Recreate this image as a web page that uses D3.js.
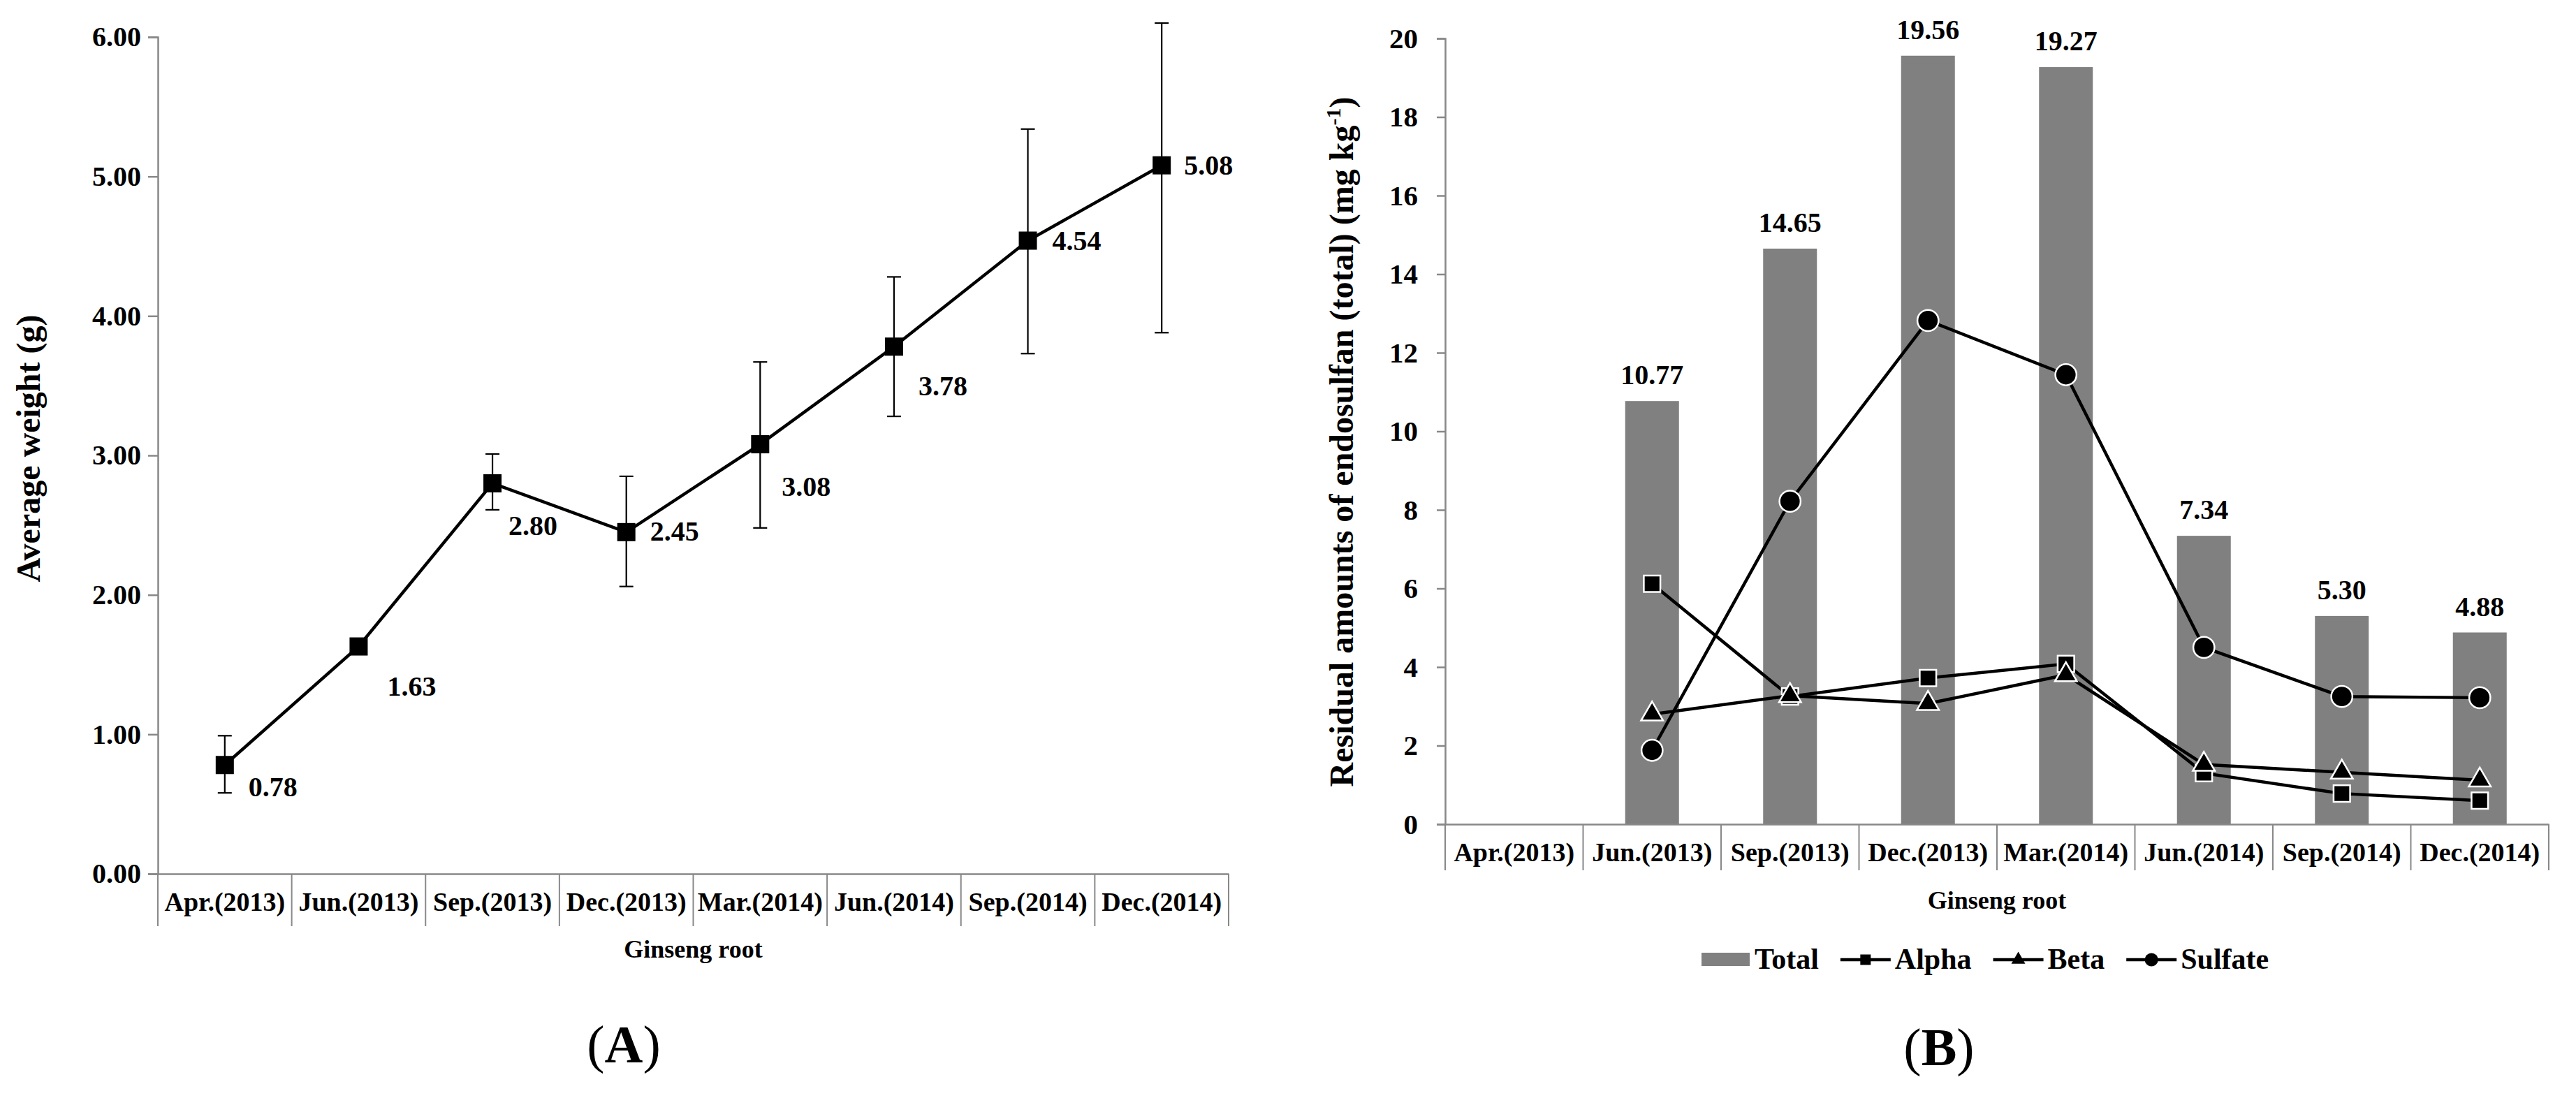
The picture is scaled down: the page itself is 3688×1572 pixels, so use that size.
<!DOCTYPE html>
<html>
<head>
<meta charset="utf-8">
<script src="https://cdn.jsdelivr.net/npm/d3@7"></script>
<style>
  html, body { margin: 0; padding: 0; background: #fff; }
  svg text { font-family: "Liberation Serif", "Times New Roman", serif; font-weight: bold; fill: #000; }
  svg text.panel { font-weight: normal; }
  svg text.panel tspan.letter { font-weight: bold; }
</style>
</head>
<body>
<div id="graph"></div>
<script>
// data
const categories = ["Apr.(2013)", "Jun.(2013)", "Sep.(2013)", "Dec.(2013)", "Mar.(2014)", "Jun.(2014)", "Sep.(2014)", "Dec.(2014)"];

// panel A: average weight of ginseng root (g)
const avgWeight = [0.78, 1.63, 2.80, 2.45, 3.08, 3.78, 4.54, 5.08];
const weightErrUp = [0.21, 0.03, 0.21, 0.40, 0.59, 0.50, 0.80, 1.02];
const weightErrDown = [0.20, 0.03, 0.19, 0.39, 0.60, 0.50, 0.81, 1.20];
const weightTicks = [0, 1, 2, 3, 4, 5, 6];

// panel B: residual endosulfan (mg kg-1)
const totalResidue = [null, 10.77, 14.65, 19.56, 19.27, 7.34, 5.30, 4.88];
const alphaResidue = [null, 6.12, 3.25, 3.72, 4.08, 1.30, 0.78, 0.60];
const betaResidue = [null, 2.80, 3.27, 3.07, 3.80, 1.52, 1.32, 1.12];
const sulfateResidue = [null, 1.88, 8.22, 12.82, 11.44, 4.50, 3.25, 3.22];
const residueTicks = [0, 2, 4, 6, 8, 10, 12, 14, 16, 18, 20];
const seriesNames = ["Total", "Alpha", "Beta", "Sulfate"];

const width = 3688;
const height = 1572;
const axisColor = "#888";

const svg = d3.select("#graph").append("svg")
    .attr("width", width)
    .attr("height", height);

svg.append("rect").attr("width", width).attr("height", height).attr("fill", "#fff");

// ---------- panel A ----------
const xA = d3.scaleBand().domain(categories).range([226, 1759]);
const yA = d3.scaleLinear().domain([0, 6]).range([1251, 53]);

const gA = svg.append("g");

// y axis
const yAxisA = gA.append("g")
    .attr("transform", "translate(226,0)")
    .call(d3.axisLeft(yA).tickValues(weightTicks).tickFormat(d3.format(".2f")).tickSize(14).tickPadding(10));
yAxisA.selectAll("path, line").attr("stroke", axisColor).attr("stroke-width", 2.5);
yAxisA.selectAll("text").attr("font-size", 40).attr("font-family", null);

// x axis with category dividers
const xAxisA = gA.append("g")
    .attr("transform", `translate(0,${yA(0)})`)
    .call(d3.axisBottom(xA).tickSize(0).tickPadding(53).tickSizeOuter(0));
xAxisA.select("path").attr("stroke", axisColor).attr("stroke-width", 2.5);
xAxisA.selectAll("text").attr("font-size", 38).attr("font-family", null).attr("dy", 0);
gA.append("g").selectAll("line")
    .data(categories.map(c => xA(c)).concat([xA.range()[1]]))
    .join("line")
    .attr("x1", d => d).attr("x2", d => d)
    .attr("y1", yA(0)).attr("y2", yA(0) + 75)
    .attr("stroke", axisColor).attr("stroke-width", 2);

gA.append("text")
    .attr("x", (xA.range()[0] + xA.range()[1]) / 2)
    .attr("y", 1371)
    .attr("text-anchor", "middle")
    .attr("font-size", 36)
    .text("Ginseng root");

gA.append("text")
    .attr("transform", `translate(57,${(yA(0) + yA(6)) / 2 - 10}) rotate(-90)`)
    .attr("text-anchor", "middle")
    .attr("font-size", 48)
    .text("Average weight (g)");

// error bars
const cx = c => xA(c) + xA.bandwidth() / 2;
const errG = gA.append("g").attr("stroke", "#000").attr("stroke-width", 2.2);
categories.forEach((c, i) => {
    const top = yA(avgWeight[i] + weightErrUp[i]);
    const bot = yA(avgWeight[i] - weightErrDown[i]);
    errG.append("line").attr("x1", cx(c)).attr("x2", cx(c)).attr("y1", top).attr("y2", bot);
    errG.append("line").attr("x1", cx(c) - 10).attr("x2", cx(c) + 10).attr("y1", top).attr("y2", top);
    errG.append("line").attr("x1", cx(c) - 10).attr("x2", cx(c) + 10).attr("y1", bot).attr("y2", bot);
});

// line + markers
const lineA = d3.line().x((d, i) => cx(categories[i])).y(d => yA(d));
gA.append("path")
    .attr("d", lineA(avgWeight))
    .attr("fill", "none").attr("stroke", "#000").attr("stroke-width", 4.5);
gA.append("g").selectAll("rect")
    .data(avgWeight)
    .join("rect")
    .attr("x", (d, i) => cx(categories[i]) - 13)
    .attr("y", d => yA(d) - 13)
    .attr("width", 26).attr("height", 26)
    .attr("fill", "#000");

// data labels (manual placement as in the figure)
const labelOffsetA = [[34, 45], [41, 70], [23, 74], [34, 12], [31, 74], [35, 70], [35, 13], [32, 13]];
gA.append("g").selectAll("text")
    .data(avgWeight)
    .join("text")
    .attr("x", (d, i) => cx(categories[i]) + labelOffsetA[i][0])
    .attr("y", (d, i) => yA(d) + labelOffsetA[i][1])
    .attr("font-size", 40)
    .text(d => d3.format(".2f")(d));

// panel label
const panelA = svg.append("text")
    .attr("class", "panel")
    .attr("x", 893).attr("y", 1521)
    .attr("text-anchor", "middle")
    .attr("font-size", 76);
panelA.append("tspan").text("(");
panelA.append("tspan").attr("class", "letter").text("A");
panelA.append("tspan").text(")");

// ---------- panel B ----------
const xB = d3.scaleBand().domain(categories).range([2069, 3649]);
const yB = d3.scaleLinear().domain([0, 20]).range([1180, 55]);
const cxB = c => xB(c) + xB.bandwidth() / 2;

const gB = svg.append("g");

const yAxisB = gB.append("g")
    .attr("transform", "translate(2069,0)")
    .call(d3.axisLeft(yB).tickValues(residueTicks).tickFormat(d3.format("d")).tickSize(12).tickPadding(27));
yAxisB.selectAll("path, line").attr("stroke", axisColor).attr("stroke-width", 2.5);
yAxisB.selectAll("text").attr("font-size", 41).attr("font-family", null);

// bars
const barW = xB.bandwidth() * 0.39;
gB.append("g").selectAll("rect")
    .data(totalResidue.map((v, i) => ({ v, c: categories[i] })).filter(d => d.v != null))
    .join("rect")
    .attr("x", d => cxB(d.c) - barW / 2)
    .attr("y", d => yB(d.v))
    .attr("width", barW)
    .attr("height", d => yB(0) - yB(d.v))
    .attr("fill", "#808080");

gB.append("g").selectAll("text")
    .data(totalResidue.map((v, i) => ({ v, c: categories[i] })).filter(d => d.v != null))
    .join("text")
    .attr("x", d => cxB(d.c))
    .attr("y", d => yB(d.v) - 24)
    .attr("text-anchor", "middle")
    .attr("font-size", 40)
    .text(d => d3.format(".2f")(d.v));

const xAxisB = gB.append("g")
    .attr("transform", `translate(0,${yB(0)})`)
    .call(d3.axisBottom(xB).tickSize(0).tickPadding(53).tickSizeOuter(0));
xAxisB.select("path").attr("stroke", axisColor).attr("stroke-width", 2.5);
xAxisB.selectAll("text").attr("font-size", 38).attr("font-family", null).attr("dy", 0);
gB.append("g").selectAll("line")
    .data(categories.map(c => xB(c)).concat([xB.range()[1]]))
    .join("line")
    .attr("x1", d => d).attr("x2", d => d)
    .attr("y1", yB(0)).attr("y2", yB(0) + 66)
    .attr("stroke", axisColor).attr("stroke-width", 2);

gB.append("text")
    .attr("x", (xB.range()[0] + xB.range()[1]) / 2)
    .attr("y", 1301)
    .attr("text-anchor", "middle")
    .attr("font-size", 36)
    .text("Ginseng root");

const titleB = gB.append("text")
    .attr("transform", `translate(1937,${(yB(0) + yB(20)) / 2 + 15}) rotate(-90)`)
    .attr("text-anchor", "middle")
    .attr("font-size", 48);
titleB.append("tspan").text("Residual amounts of endosulfan (total) (mg kg");
titleB.append("tspan").attr("font-size", 30).attr("dy", -18).text("-1");
titleB.append("tspan").attr("dy", 18).text(")");

// component lines
const components = [
    { name: "Alpha", values: alphaResidue, symbol: d3.symbolSquare, size: 560 },
    { name: "Beta", values: betaResidue, symbol: d3.symbolTriangle, size: 430 },
    { name: "Sulfate", values: sulfateResidue, symbol: d3.symbolCircle, size: 720 }
];
const lineB = d3.line()
    .defined(d => d != null)
    .x((d, i) => cxB(categories[i]))
    .y(d => yB(d));

components.forEach(s => {
    const g = gB.append("g");
    g.append("path")
        .attr("d", lineB(s.values))
        .attr("fill", "none").attr("stroke", "#000").attr("stroke-width", 4.5);
    g.selectAll("path.mark")
        .data(s.values.map((v, i) => ({ v, c: categories[i] })).filter(d => d.v != null))
        .join("path")
        .attr("class", "mark")
        .attr("transform", d => `translate(${cxB(d.c)},${yB(d.v)})`)
        .attr("d", d3.symbol(s.symbol, s.size))
        .attr("fill", "#000")
        .attr("stroke", "#fff")
        .attr("stroke-width", 2.5);
});

// legend
const legend = gB.append("g").attr("transform", "translate(2436,1374)");
let lx = 0;
seriesNames.forEach((name, k) => {
    if (k === 0) {
        legend.append("rect").attr("x", lx).attr("y", -10).attr("width", 69).attr("height", 19).attr("fill", "#808080");
        lx += 76;
    } else {
        const s = components[k - 1];
        legend.append("line").attr("x1", lx).attr("x2", lx + 72).attr("y1", 0).attr("y2", 0)
            .attr("stroke", "#000").attr("stroke-width", 4.5);
        legend.append("path").attr("transform", `translate(${lx + 36},0)`)
            .attr("d", d3.symbol(s.symbol, s.size * 0.4)).attr("fill", "#000");
        lx += 78;
    }
    const t = legend.append("text").attr("x", lx).attr("y", 13).attr("font-size", 42).text(name);
    lx += t.node().getComputedTextLength() + 31;
});

const panelB = svg.append("text")
    .attr("class", "panel")
    .attr("x", 2776).attr("y", 1525)
    .attr("text-anchor", "middle")
    .attr("font-size", 76);
panelB.append("tspan").text("(");
panelB.append("tspan").attr("class", "letter").text("B");
panelB.append("tspan").text(")");
</script>
</body>
</html>
